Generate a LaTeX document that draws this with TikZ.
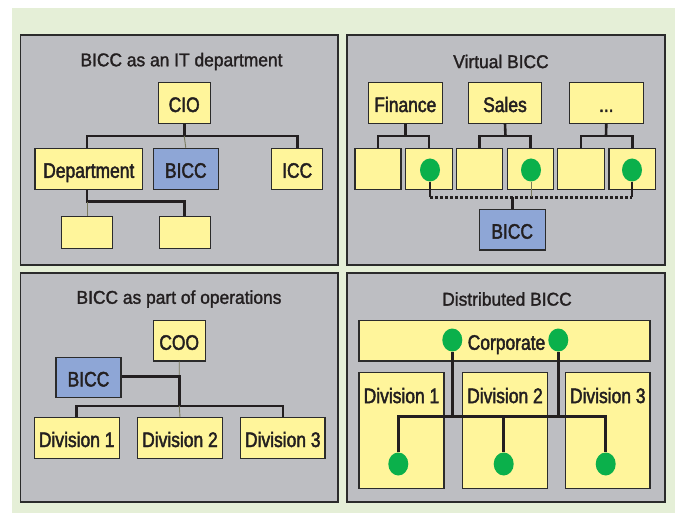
\documentclass[tikz,border=0pt]{standalone}
\usepackage{fontspec}
\setmainfont{Liberation Sans}[FakeStretch=0.83,FakeBold=2]
\newfontfamily\titlefont{Liberation Sans}[FakeStretch=0.94,FakeBold=1.5]
\usetikzlibrary{shapes.geometric}
\definecolor{bggreen}{HTML}{E5EFD7}
\definecolor{panelgray}{HTML}{BDBEC2}
\definecolor{boxyellow}{HTML}{FFF59B}
\definecolor{boxblue}{HTML}{8EA6D6}
\definecolor{dotgreen}{HTML}{0BB04B}
\definecolor{txt}{HTML}{231F20}
\definecolor{edge}{HTML}{2B2B2B}
\definecolor{thinln}{HTML}{7A7A5E}
\tikzset{
  panel/.style={draw=edge, line width=1.2pt, fill=panelgray},
  ybox/.style={draw=edge, line width=1.1pt, fill=boxyellow, inner sep=0pt, text=txt, font=\fontsize{21}{21}\selectfont, text height=18pt, text depth=0pt},
  bbox/.style={ybox, fill=boxblue},
  ptitle/.style={text=txt, font=\titlefont\fontsize{18.5}{18.5}\selectfont, inner sep=0pt},
  gdot/.style={ellipse, fill=dotgreen, draw=none, minimum width=20pt, minimum height=23pt, inner sep=0pt},
  thk/.style={draw=txt, line width=2.6pt},
  thn/.style={draw=thinln, line width=0.9pt},
  dotln/.style={draw=txt, line width=2.6pt, dash pattern=on 2.6pt off 2.4pt},
}
\begin{document}
\begin{tikzpicture}[x=1pt,y=-1pt]
\useasboundingbox (0,0) rectangle (675,513);
\fill[white] (0,0) rectangle (675,513);
\fill[bggreen] (12,8) rectangle (675,513);
% panels
\path[panel] (20.5,35) rectangle (338,265);
\path[panel] (347,35) rectangle (665,265);
\path[panel] (20.5,273) rectangle (338,502);
\path[panel] (347,273) rectangle (665,502);

% ---------- Panel 1
\node[ptitle] (t1) at (181.5,61.5) {BICC as an IT department};
\node[ybox, minimum width=51.7pt, minimum height=40.6pt] (cio) at (184.2,103) {CIO};
\node[ybox, minimum width=107.7pt, minimum height=41pt] (dept) at (88.8,168.8) {Department};
\node[bbox, minimum width=65pt, minimum height=41pt] (bicc1) at (185.8,168.8) {BICC};
\node[ybox, minimum width=51pt, minimum height=41pt] (icc) at (297.2,168.8) {ICC};
\node[ybox, minimum width=50.6pt, minimum height=31.6pt] (sub1) at (87,232.5) {};
\node[ybox, minimum width=50.7pt, minimum height=31.6pt] (sub2) at (184.7,232.5) {};
\coordinate (bar1) at (184.2,136);
\coordinate (bar1b) at (87,201.7);
\draw[thk] (cio.south) -- (bar1);
\draw[thk] (dept.north -| sub1.north) -- (sub1.north |- bar1) -| (icc.north);
\draw[thn] (bar1) -- (bicc1.north);
\draw[thk] (dept.south -| sub1.north) -- (bar1b) -| (sub2.north);
\draw[thn] (bar1b) -- (sub1.north);

% ---------- Panel 2
\node[ptitle] (t2) at (501,61.5) {Virtual BICC};
\node[ybox, minimum width=74pt, minimum height=40.6pt] (fin) at (405.3,103) {Finance};
\node[ybox, minimum width=73.4pt, minimum height=40.6pt] (sales) at (505,103) {Sales};
\node[ybox, minimum width=74pt, minimum height=40.6pt] (more) at (606.3,103) {...};
\node[ybox, minimum width=46pt, minimum height=41pt] (a1) at (378,168.8) {};
\node[ybox, minimum width=46.6pt, minimum height=41pt] (a2) at (429,168.8) {};
\node[ybox, minimum width=46pt, minimum height=41pt] (b1) at (479.7,168.8) {};
\node[ybox, minimum width=46pt, minimum height=41pt] (b2) at (530.3,168.8) {};
\node[ybox, minimum width=46.6pt, minimum height=41pt] (c1) at (581,168.8) {};
\node[ybox, minimum width=46.7pt, minimum height=41pt] (c2) at (632.3,168.8) {};
\node[bbox, minimum width=65.7pt, minimum height=40.7pt] (bicc2) at (512.2,229.7) {BICC};
\coordinate (fb) at (405.3,136);
\coordinate (sb) at (505.5,136);
\coordinate (mb) at (606,136);
\draw[thk] (fin.south) -- (fb);
\draw[thk] (a1.north) -- (a1.north |- fb) -- (a2.north |- fb) -- (a2.north);
\draw[thk] (sales.south) -- (sb);
\draw[thk] (b1.north) -- (b1.north |- sb) -- (b2.north |- sb) -- (b2.north);
\draw[thk] (more.south) -- (mb);
\draw[thk] (c1.north) -- (c1.north |- mb) -- (c2.north |- mb) -- (c2.north);
\node[gdot] (ga) at (430,170) {};
\node[gdot] (gb) at (531,170) {};
\node[gdot] (gc) at (632,170) {};
\coordinate (dl) at (430,197.3);
\coordinate (dr) at (632,197.3);
\draw[dotln] (dl) -- (dr);
\draw[thk] (ga.south) -- (dl);
\draw[thk] (gc.south) -- (dr);
\draw[thn] (gb.south) -- (gb.south |- dl);
\draw[thk] (bicc2.north) -- (bicc2.north |- dl);

% ---------- Panel 3
\node[ptitle] (t3) at (179,299) {BICC as part of operations};
\node[ybox, minimum width=51.7pt, minimum height=40.3pt] (coo) at (179.2,340.8) {COO};
\node[bbox, minimum width=65pt, minimum height=40.4pt] (bicc3) at (88.5,377.5) {BICC};
\node[ybox, minimum width=84.7pt, minimum height=40.6pt] (d1) at (76.7,438) {Division 1};
\node[ybox, minimum width=84.6pt, minimum height=40.6pt] (d2) at (180,438) {Division 2};
\node[ybox, minimum width=84.3pt, minimum height=40.6pt] (d3) at (282.8,438) {Division 3};
\coordinate (j3) at (179.3,376.7);
\coordinate (bar3) at (179.3,406);
\draw[thn] (coo.south) -- (j3);
\draw[thk] (bicc3.east |- j3) -- (j3) -- (bar3);
\draw[thk] (d1.north) -- (d1.north |- bar3) -- (d3.north |- bar3) -- (d3.north);
\draw[thn] (bar3) -- (d2.north);

% ---------- Panel 4
\node[ptitle] (t4) at (507,299) {Distributed BICC};
\node[ybox, minimum width=291pt, minimum height=40.3pt] (corp) at (504.5,340.8) {\hspace*{4pt}Corporate};
\tikzset{divlab/.style={anchor=north, inner sep=0pt, yshift=-15.5pt, text=txt, font=\fontsize{21}{21}\selectfont}}
\node[ybox, minimum width=85pt, minimum height=115.6pt, label={[divlab]north:Division 1}] (e1) at (401.5,430.5) {};
\node[ybox, minimum width=84.6pt, minimum height=115.6pt, label={[divlab]north:Division 2}] (e2) at (505,430.5) {};
\node[ybox, minimum width=84.3pt, minimum height=115.6pt, label={[divlab]north:Division 3}] (e3) at (607.8,430.5) {};
\coordinate (bar4) at (505,416.3);
\node[gdot] (u1) at (452.3,340) {};
\node[gdot] (u2) at (558.3,340) {};
\node[gdot] (l1) at (398.3,464) {};
\node[gdot] (l2) at (503.7,464) {};
\node[gdot] (l3) at (605.7,464) {};
\draw[thk] (u1.south) -- (u1.south |- bar4);
\draw[thk] (u2.south) -- (u2.south |- bar4);
\draw[thk] (l1.north) -- (l1.north |- bar4) -- (l3.north |- bar4) -- (l3.north);
\draw[thk] (l2.north) -- (l2.north |- bar4);
\end{tikzpicture}
\end{document}
